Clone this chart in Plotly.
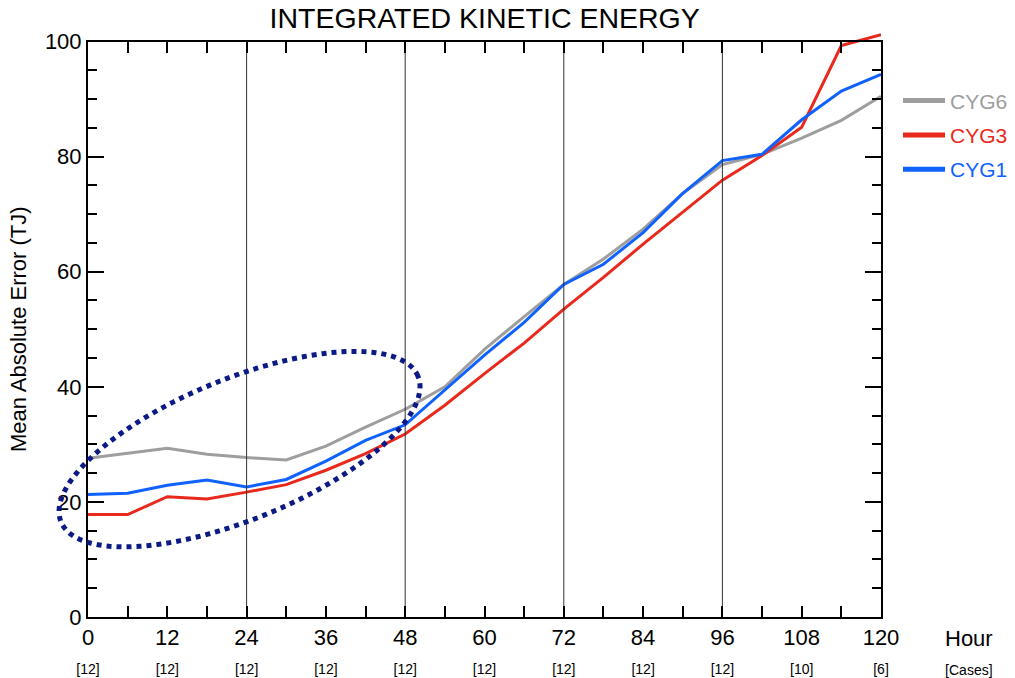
import numpy as np
import plotly.graph_objects as go

hours = list(range(0, 121, 6))
cyg6 = [27.6, 28.5, 29.3, 28.3, 27.7, 27.3, 29.7, 33.0, 36.1, 40.0, 46.5, 52.2, 57.8, 62.2, 67.4, 73.6, 78.6, 80.4, 83.2, 86.3, 90.5]
cyg3 = [17.8, 17.8, 20.9, 20.5, 21.7, 23.0, 25.5, 28.4, 31.8, 36.8, 42.3, 47.6, 53.5, 59.0, 64.8, 70.3, 75.9, 80.2, 85.1, 99.3, 101.2]
cyg1 = [21.3, 21.5, 22.9, 23.8, 22.6, 23.9, 27.1, 30.7, 33.4, 39.4, 45.5, 51.2, 57.8, 61.3, 66.8, 73.6, 79.3, 80.4, 86.4, 91.4, 94.3]
label_hours = list(range(0, 121, 12))
cases = [12, 12, 12, 12, 12, 12, 12, 12, 12, 10, 6]
grid_hours = [24, 48, 72, 96]

FONT = "Liberation Sans, Arial, sans-serif"
GRAY, RED, BLUE = "#9e9e9e", "#e8291c", "#0f62fe"
NAVY = "#0c1a86"

X_MAX, Y_FRAME, Y_DATA = 120, 100, 102

fig = go.Figure()
series = [("CYG6", cyg6, GRAY), ("CYG3", cyg3, RED), ("CYG1", cyg1, BLUE)]
for name, vals, col in series:
    fig.add_trace(go.Scatter(x=hours, y=vals, mode="lines", line=dict(color=col, width=3),
                             showlegend=False, xaxis="x", yaxis="y", hoverinfo="skip"))
for name, vals, col in series:
    fig.add_trace(go.Scatter(x=[None], y=[None], mode="lines", line=dict(color=col, width=5),
                             name=f"<span style='color:{col}'>{name}</span>", legendgroup=name,
                             xaxis="x", yaxis="y"))
# frame subplot carrier
fig.add_trace(go.Scatter(x=[None], y=[None], xaxis="x2", yaxis="y2", showlegend=False))

# ellipse (annotation) in data units -> paper
px_per_h = 793 / 120
px_per_v = 5.76
cx, cy = 22.93, 29.17
a, b, th = 192.8, 70.5, np.deg2rad(22.2)
t = np.linspace(0, 2 * np.pi, 200)
dx = a * np.cos(t) * np.cos(th) - b * np.sin(t) * np.sin(th)
dy = a * np.cos(t) * np.sin(th) + b * np.sin(t) * np.cos(th)
ex = (cx + dx / px_per_h) / X_MAX
ey = (cy + dy / px_per_v) / Y_DATA
path = "M " + " L ".join(f"{x:.5f},{y:.5f}" for x, y in zip(ex, ey)) + " Z"
fig.add_shape(type="path", path=path, xref="paper", yref="paper",
              line=dict(color=NAVY, width=5, dash="dot"), layer="above")

for g in grid_hours:
    fig.add_shape(type="line", x0=g, x1=g, y0=0, y1=Y_FRAME, xref="x2", yref="y2",
                  line=dict(color="#333333", width=1), layer="below")

tick_text = [f"{h}<br><span style='font-size:14px'>[{c}]</span>" for h, c in zip(label_hours, cases)]

fig.update_layout(
    width=1015, height=678,
    margin=dict(l=88, r=134, t=29.5, b=61, autoexpand=False),
    paper_bgcolor="white", plot_bgcolor="rgba(0,0,0,0)",
    font=dict(family=FONT, size=22, color="black"),
    title=dict(text="INTEGRATED KINETIC ENERGY", x=0.4775, xanchor="center", y=0.973, yanchor="middle",
               font=dict(size=28.5, family=FONT, color="black")),
    xaxis=dict(domain=[0, 1], range=[0, X_MAX], visible=False, anchor="y"),
    yaxis=dict(domain=[0, 1], range=[0, Y_DATA], visible=False, anchor="x"),
    xaxis2=dict(domain=[0, 1], range=[0, X_MAX], anchor="y2", showline=True, linecolor="black",
                linewidth=2, mirror="ticks", ticks="inside", ticklen=11, tickwidth=1.5,
                tickcolor="black", tickmode="array", tickvals=label_hours, ticktext=tick_text,
                showgrid=False, zeroline=False, automargin=False,
                minor=dict(ticks="inside", ticklen=11, tickwidth=1.5, tickcolor="black",
                           tick0=0, dtick=6, showgrid=False),
                tickfont=dict(size=22)),
    yaxis2=dict(domain=[0, Y_FRAME / Y_DATA], range=[0, Y_FRAME], anchor="x2", showline=True,
                linecolor="black", linewidth=2, mirror="ticks", ticks="inside", ticklen=16,
                tickwidth=1.5, tickcolor="black", tickvals=list(range(0, 101, 20)),
                showgrid=False, zeroline=False, automargin=False,
                minor=dict(ticks="inside", ticklen=9, tickwidth=1.5, tickcolor="black",
                           tick0=0, dtick=5, showgrid=False),
                title=dict(text="Mean Absolute Error (TJ)", font=dict(size=22), standoff=12),
                tickfont=dict(size=22)),
    legend=dict(x=(898 - 88) / 793, y=(617 - 80) / 587.5, xanchor="left", yanchor="top",
                font=dict(size=21), bgcolor="rgba(0,0,0,0)", itemwidth=42,
                tracegroupgap=4, traceorder="grouped"),
    showlegend=True,
)
fig.add_annotation(text="Hour<br><span style='font-size:14px'>[Cases]</span>", xref="paper", yref="paper",
                   x=(969 - 88) / 793, y=(617 - 624) / 587.5, xanchor="center", yanchor="top",
                   showarrow=False, font=dict(size=22, family=FONT, color="black"), align="center")

fig.write_html("out.html", config={"displayModeBar": False},
               post_script="document.body.style.margin='0';document.body.style.overflow='hidden';")
